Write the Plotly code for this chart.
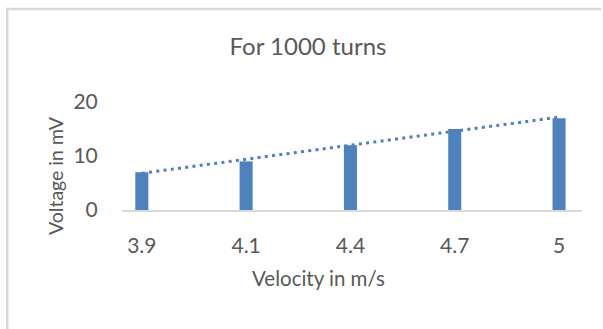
import numpy as np
import plotly.graph_objects as go

# Data
velocity_labels = ["3.9", "4.1", "4.4", "4.7", "5"]
voltage_mv = [7, 9, 12, 15, 17]
y_ticks = [0, 10, 20]

title_text = "For 1000 turns"
x_title = "Velocity in m/s"
y_title = "Voltage in mV"

BLUE = "#4f81bd"
GREY_TXT = "#595959"
BORDER = "#d9d9d9"
FONT = "Lato, 'Open Sans', sans-serif"

# Linear trendline (Excel style: fitted over category index)
idx = np.arange(1, len(voltage_mv) + 1)
slope, intercept = np.polyfit(idx, voltage_mv, 1)
trend = slope * idx + intercept

W, H = 603, 329

def fx(x):
    return x / W

def fy(y):
    return 1 - y / H

fig = go.Figure()
fig.add_trace(go.Bar(x=velocity_labels, y=voltage_mv, width=0.125,
                     marker=dict(color=BLUE, line=dict(width=0)),
                     hoverinfo="skip"))
fig.add_trace(go.Scatter(x=velocity_labels, y=trend, mode="lines",
                         line=dict(color=BLUE, width=3, dash="3px,4.3px"),
                         hoverinfo="skip"))

fig.update_layout(
    width=W, height=H,
    margin=dict(l=0, r=0, t=0, b=0),
    paper_bgcolor="white", plot_bgcolor="white",
    showlegend=False,
    font=dict(family=FONT, color=GREY_TXT),
    title=dict(text=title_text, x=fx(308), xanchor="center", xref="container",
               y=fy(47), yanchor="middle", yref="container",
               font=dict(size=24, color=GREY_TXT, family=FONT)),
    xaxis=dict(type="category", range=[-0.19, 4.22],
               domain=[fx(122), fx(582)], automargin=False,
               showline=True, linecolor=BORDER, linewidth=1.5,
               showgrid=False, zeroline=False,
               ticks="outside", ticklen=16, tickcolor="rgba(0,0,0,0)",
               tickfont=dict(size=21, color=GREY_TXT, family=FONT)),
    yaxis=dict(range=[0, 20], tickvals=y_ticks,
               domain=[fy(210), fy(102)], automargin=False,
               showline=False, showgrid=False, zeroline=False,
               ticks="outside", ticklen=19, tickcolor="rgba(0,0,0,0)",
               tickfont=dict(size=21, color=GREY_TXT, family=FONT)),
    annotations=[
        dict(text=y_title, textangle=-90, x=fx(55), y=fy(176),
             xref="paper", yref="paper", xanchor="center", yanchor="middle",
             showarrow=False, font=dict(size=19.5, color=GREY_TXT, family=FONT)),
        dict(text=x_title, x=fx(318), y=fy(278),
             xref="paper", yref="paper", xanchor="center", yanchor="middle",
             showarrow=False, font=dict(size=20.5, color=GREY_TXT, family=FONT)),
    ],
    shapes=[
        dict(type="rect", xref="paper", yref="paper",
             x0=fx(6), x1=fx(601), y0=fy(10.2), y1=fy(7.8),
             fillcolor=BORDER, line=dict(width=0), layer="below"),
        dict(type="rect", xref="paper", yref="paper",
             x0=fx(6), x1=fx(8.5), y0=0, y1=fy(7.8),
             fillcolor=BORDER, line=dict(width=0), layer="below"),
    ],
)

fig.write_html("out.html",
               config={"displayModeBar": False, "staticPlot": True},
               post_script="document.body.style.margin='0';"
                           "document.body.style.overflow='hidden';")
